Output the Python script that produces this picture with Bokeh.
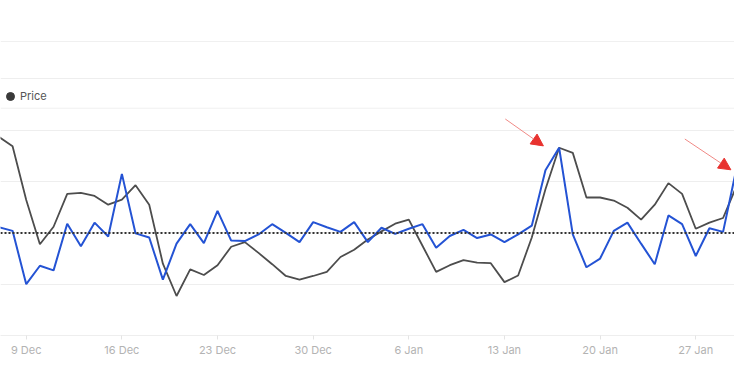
import pandas as pd
from bokeh.plotting import figure
from bokeh.models import (Range1d, FixedTicker, DatetimeTickFormatter, Span, Arrow,
                          NormalHead, Legend, LegendItem, ColumnDataSource)
from bokeh.embed import file_html
from bokeh.resources import INLINE

# ---------------- data ----------------
dates = pd.date_range("2024-12-07", "2025-01-30", freq="D")

price = [3.87, 3.69, 2.64, 1.78, 2.12, 2.76, 2.78, 2.72, 2.55, 2.65,
         2.93, 2.55, 1.40, 0.77, 1.29, 1.18, 1.37, 1.73, 1.82, 1.61,
         1.39, 1.16, 1.09, 1.16, 1.24, 1.53, 1.67, 1.87, 2.03, 2.18,
         2.26, 1.75, 1.24, 1.37, 1.47, 1.42, 1.41, 1.04, 1.17, 1.91,
         2.85, 3.66, 3.56, 2.69, 2.69, 2.63, 2.49, 2.26, 2.55, 2.97,
         2.76, 2.08, 2.20, 2.29, 2.92]

indicator = [2.11, 2.04, 1.00, 1.36, 1.27, 2.18, 1.74, 2.20, 1.93, 3.15,
             1.99, 1.91, 1.09, 1.79, 2.17, 1.80, 2.43, 1.85, 1.84, 1.97,
             2.17, 2.00, 1.82, 2.21, 2.11, 2.02, 2.21, 1.82, 2.10, 1.98,
             2.08, 2.17, 1.71, 1.94, 2.06, 1.90, 1.97, 1.82, 1.97, 2.14,
             3.22, 3.66, 1.97, 1.33, 1.50, 2.04, 2.20, 1.79, 1.39, 2.34,
             2.17, 1.55, 2.09, 2.02, 3.28]

mean_level = 2.0
grid_levels = [1, 2, 3, 4, 5]
extra_rules = [5.73, 4.43]
tick_dates = ["2024-12-09", "2024-12-16", "2024-12-23", "2024-12-30",
              "2025-01-06", "2025-01-13", "2025-01-20", "2025-01-27"]
legend_label = "Price"
peak_index = 41
last_index = len(dates) - 1

# ---------------- figure ----------------
day_ms = 86400000.0
x0 = pd.Timestamp("2024-12-07").timestamp() * 1000 + 0.116 * day_ms
x1 = x0 + 53.72 * day_ms

p = figure(width=734, height=359, x_axis_type="datetime",
           output_backend="svg", toolbar_location=None,
           x_range=Range1d(x0, x1), y_range=Range1d(0, 6.53),
           y_axis_location=None,
           min_border_left=0, min_border_right=0,
           min_border_top=0, min_border_bottom=0)
p.outline_line_color = None
p.background_fill_color = "white"
p.border_fill_color = "white"

p.xgrid.visible = False
p.ygrid.ticker = FixedTicker(ticks=grid_levels)
p.ygrid.grid_line_color = "#eeeeee"
p.ygrid.grid_line_width = 1

for lvl in extra_rules:
    p.add_layout(Span(location=lvl, dimension="width",
                      line_color="#f0f0f0", line_width=1))

tick_ms = [pd.Timestamp(d).timestamp() * 1000 for d in tick_dates]
ax = p.xaxis[0]
ax.ticker = FixedTicker(ticks=tick_ms)
fmt = "%-d %b"
ax.formatter = DatetimeTickFormatter(days=fmt, months=fmt, hours=fmt,
                                     years=fmt, minutes=fmt)
ax.axis_line_color = "#eeeeee"
ax.major_tick_line_color = "#e4e4e4"
ax.major_tick_out = 4
ax.major_tick_in = 0
ax.minor_tick_line_color = None
ax.major_label_text_color = "#b3b3b3"
ax.major_label_text_font = "Inter"
ax.major_label_text_font_size = "11px"
ax.major_label_standoff = 3

src = ColumnDataSource(dict(date=dates, price=price, indicator=indicator))

p.add_layout(Span(location=mean_level, dimension="width",
                  line_color="#333333", line_width=2, line_dash="2 2"))

p.line("date", "price", source=src, line_color="#4d4d4d", line_width=1.8)
p.line("date", "indicator", source=src, line_color="#2453d4", line_width=2)

# legend (proxy marker lies below the visible range)
legend_proxy = ColumnDataSource(dict(x=[dates[0]], y=[-1.0]))
dot = p.scatter("x", "y", source=legend_proxy, marker="circle", size=8,
                fill_color="#3a3a3a", line_color="#3a3a3a")
legend = Legend(items=[LegendItem(label=legend_label, renderers=[dot])],
                location=(0, 229), orientation="horizontal",
                glyph_width=20, glyph_height=20, label_height=20,
                label_standoff=-4, padding=0, margin=0, spacing=0,
                border_line_color=None, background_fill_alpha=0,
                label_text_font="Inter", label_text_font_size="11px",
                label_text_color="#555555")
p.add_layout(legend, "center")

# arrows pointing at the spikes
def add_arrow(idx, val, dx_end, dy_end, dx_start, dy_start):
    xt = dates[idx].timestamp() * 1000
    p.add_layout(Arrow(
        end=NormalHead(size=12, fill_color="#e8322f", line_color="#e8322f"),
        x_start=xt + dx_start * day_ms, y_start=val + dy_start,
        x_end=xt + dx_end * day_ms, y_end=val + dy_end,
        line_color="#f08a86", line_width=1))

add_arrow(peak_index, indicator[peak_index], -1.15, 0.036, -3.94, 0.56)
add_arrow(last_index, indicator[last_index], -0.43, -0.05, -3.8, 0.55)

open("out.html", "w").write(file_html(p, INLINE))
